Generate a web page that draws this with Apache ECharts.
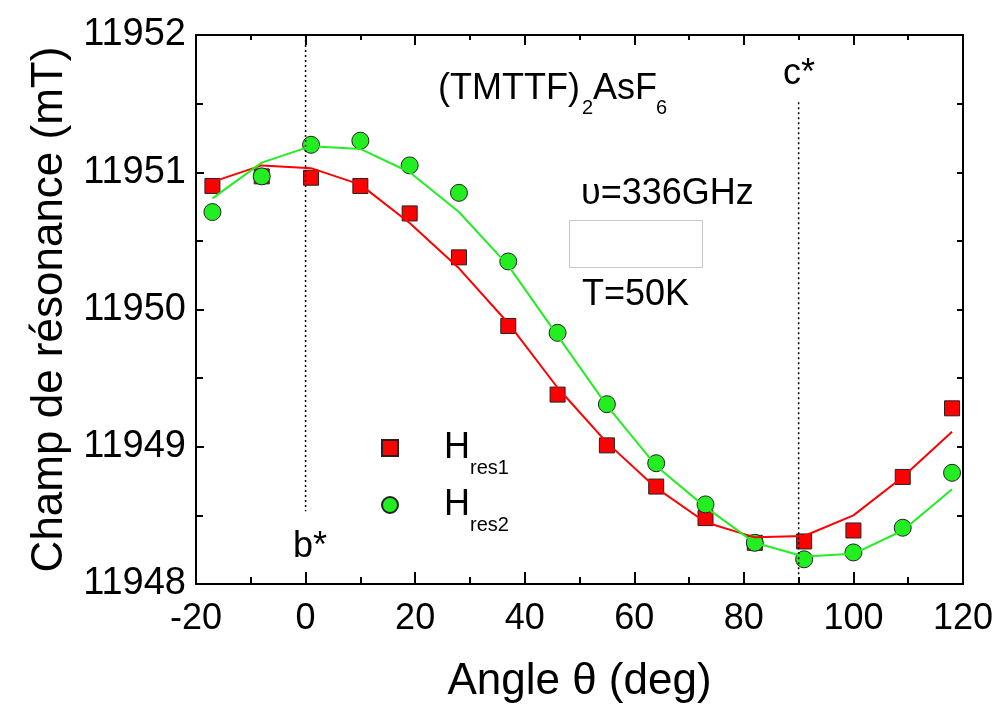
<!DOCTYPE html>
<html><head><meta charset="utf-8">
<script src="https://cdn.jsdelivr.net/npm/echarts@6/dist/echarts.min.js"></script>
<style>html,body{margin:0;padding:0;background:#fff}#c{width:998px;height:704px}</style>
</head><body><div id="c"></div>
<script>
// ---- data ----
const angles = [-17, -8, 1, 10, 19, 28, 37, 46, 55, 64, 73, 82, 91, 100, 109, 118];
const hres1  = [11950.90, 11950.97, 11950.96, 11950.90, 11950.70, 11950.38, 11949.88, 11949.38, 11949.01, 11948.71, 11948.48, 11948.30, 11948.31, 11948.39, 11948.78, 11949.28];
const hres2  = [11950.71, 11950.97, 11951.20, 11951.23, 11951.05, 11950.85, 11950.35, 11949.83, 11949.31, 11948.88, 11948.58, 11948.30, 11948.18, 11948.23, 11948.41, 11948.81];
const fit1   = [11950.93, 11951.05, 11951.03, 11950.91, 11950.63, 11950.30, 11949.90, 11949.43, 11949.03, 11948.70, 11948.45, 11948.34, 11948.35, 11948.50, 11948.78, 11949.11];
const fit2   = [11950.81, 11951.07, 11951.19, 11951.17, 11951.00, 11950.71, 11950.32, 11949.81, 11949.30, 11948.86, 11948.56, 11948.30, 11948.20, 11948.22, 11948.39, 11948.69];
const xRange = [-20, 120];
const xStep = 20;
const yRange = [11948, 11952];
const yStep = 1;
const bStarLine = [[0, 11952], [0, 11948.53]];
const cStarLine = [[90, 11951.51], [90, 11948]];
const seriesNames = ['Hres1', 'Hres2'];

const FONT = '"Liberation Sans", Arial, sans-serif';
const RED = '#ff0000';
const GREEN = '#22ee22';

const chart = echarts.init(document.getElementById('c'), null, {renderer: 'canvas'});

const pairs = (ys) => angles.map((a, i) => [a, ys[i]]);

const baseX = {
  type: 'value', min: xRange[0], max: xRange[1], interval: xStep,
  splitLine: {show: false}, minorSplitLine: {show: false},
  axisLine: {show: true, onZero: false, lineStyle: {color: '#000', width: 2}},
};
const baseY = {
  type: 'value', min: yRange[0], max: yRange[1], interval: yStep,
  splitLine: {show: false}, minorSplitLine: {show: false},
  axisLine: {show: true, onZero: false, lineStyle: {color: '#000', width: 2}},
};

const option = {
  animation: false,
  backgroundColor: '#fff',
  grid: {left: 196, right: 35, top: 35, bottom: 120, containLabel: false, outerBoundsMode: 'none'},
  xAxis: [
    Object.assign({}, baseX, {
      position: 'bottom',
      axisTick: {show: true, inside: true, length: 12, lineStyle: {color: '#000', width: 2}},
      minorTick: {show: true, splitNumber: 2, length: 7, lineStyle: {color: '#000', width: 2}},
      axisLabel: {show: true, fontSize: 36, fontFamily: FONT, color: '#000', margin: 17,
                  formatter: v => String(v)},
      name: 'Angle θ (deg)', nameLocation: 'middle', nameGap: 76,
      nameTextStyle: {fontSize: 44, fontFamily: FONT, color: '#000'}
    }),
    Object.assign({}, baseX, {
      position: 'top',
      axisTick: {show: true, inside: true, length: 10, lineStyle: {color: '#000', width: 2}},
      minorTick: {show: true, splitNumber: 2, length: 5, lineStyle: {color: '#000', width: 2}},
      axisLabel: {show: false}
    })
  ],
  yAxis: [
    Object.assign({}, baseY, {
      position: 'left',
      axisTick: {show: true, inside: true, length: 8, lineStyle: {color: '#000', width: 2}},
      minorTick: {show: true, splitNumber: 2, length: 7, lineStyle: {color: '#000', width: 2}},
      axisLabel: {show: true, fontSize: 38, fontFamily: FONT, color: '#000', margin: 10,
                  padding: [0, 0, 5, 0], formatter: v => String(v)},
      name: 'Champ de résonance (mT)', nameLocation: 'middle', nameGap: 118,
      nameTextStyle: {fontSize: 44, fontFamily: FONT, color: '#000'}
    }),
    Object.assign({}, baseY, {
      position: 'right',
      axisTick: {show: true, inside: true, length: 6, lineStyle: {color: '#000', width: 2}},
      minorTick: {show: true, splitNumber: 2, length: 6, lineStyle: {color: '#000', width: 2}},
      axisLabel: {show: false}
    })
  ],
  legend: {
    show: true, orient: 'vertical', left: 381, top: 430, padding: 0,
    itemWidth: 16, itemHeight: 16, itemGap: 9,
    data: seriesNames,
    formatter: n => '{h|H}{s|' + n.slice(1) + '}',
    textStyle: {
      rich: {
        h: {fontSize: 36, fontFamily: FONT, color: '#000', padding: [0, 0, 0, 41], verticalAlign: 'middle'},
        s: {fontSize: 20, fontFamily: FONT, color: '#000', padding: [40, 0, 0, 0], verticalAlign: 'middle'}
      }
    }
  },
  series: [
    {name: 'bstar', type: 'line', data: bStarLine, symbol: 'none', silent: true,
     lineStyle: {color: '#000', width: 1.5, type: [2, 3]}},
    {name: 'cstar', type: 'line', data: cStarLine, symbol: 'none', silent: true,
     lineStyle: {color: '#000', width: 1.5, type: [2, 3]}},
    {name: 'fit1', type: 'line', data: pairs(fit1), symbol: 'none',
     lineStyle: {color: RED, width: 2}},
    {name: 'fit2', type: 'line', data: pairs(fit2), symbol: 'none',
     lineStyle: {color: GREEN, width: 2}},
    {name: seriesNames[0], type: 'scatter', data: pairs(hres1), symbol: 'rect', symbolSize: 15,
     itemStyle: {color: RED, borderColor: '#222', borderWidth: 1, opacity: 1}},
    {name: seriesNames[1], type: 'scatter', data: pairs(hres2), symbol: 'circle', symbolSize: 17,
     itemStyle: {color: GREEN, borderColor: '#222', borderWidth: 1, opacity: 1}}
  ],
  graphic: [
    {type: 'text', x: 438, y: 89, style: {text: '(TMTTF)', font: '36px ' + FONT, fill: '#000', align: 'left', verticalAlign: 'middle', textAlign: 'left', textVerticalAlign: 'middle'}},
    {type: 'text', x: 582, y: 108, style: {text: '2', font: '20px ' + FONT, fill: '#000', align: 'left', verticalAlign: 'middle', textAlign: 'left', textVerticalAlign: 'middle'}},
    {type: 'text', x: 593, y: 89, style: {text: 'AsF', font: '36px ' + FONT, fill: '#000', align: 'left', verticalAlign: 'middle', textAlign: 'left', textVerticalAlign: 'middle'}},
    {type: 'text', x: 656, y: 108, style: {text: '6', font: '20px ' + FONT, fill: '#000', align: 'left', verticalAlign: 'middle', textAlign: 'left', textVerticalAlign: 'middle'}},
    {type: 'text', x: 581, y: 194, style: {text: 'υ=336GHz', font: '36px ' + FONT, fill: '#000', align: 'left', verticalAlign: 'middle', textAlign: 'left', textVerticalAlign: 'middle'}},
    {type: 'rect', shape: {x: 569.5, y: 220.5, width: 133, height: 47}, style: {fill: '#fff', stroke: '#c8c8c8', lineWidth: 1}},
    {type: 'text', x: 582, y: 295, style: {text: 'T=50K', font: '36px ' + FONT, fill: '#000', align: 'left', verticalAlign: 'middle', textAlign: 'left', textVerticalAlign: 'middle'}},
    {type: 'text', x: 783, y: 74, style: {text: 'c*', font: '36px ' + FONT, fill: '#000', align: 'left', verticalAlign: 'middle', textAlign: 'left', textVerticalAlign: 'middle'}},
    {type: 'text', x: 293, y: 547, style: {text: 'b*', font: '36px ' + FONT, fill: '#000', align: 'left', verticalAlign: 'middle', textAlign: 'left', textVerticalAlign: 'middle'}}
  ]
};
chart.setOption(option);
</script>
</body></html>
